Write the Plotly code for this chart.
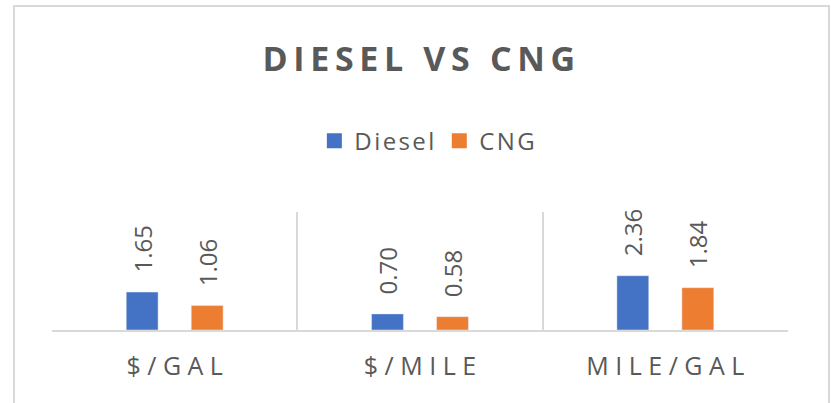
import plotly.graph_objects as go

categories = ["$/GAL", "$/MILE", "MILE/GAL"]
diesel = [1.65, 0.70, 2.36]
cng = [1.06, 0.58, 1.84]

GRAY = "#595959"
LINE = "#d9d9d9"
FONT = "Open Sans"
COLORS = {"Diesel": "#4472C4", "CNG": "#ED7D31"}


def spaced(s, sep=" "):
    return sep.join(s)


def label(v):
    # leading spaces push the rotated label up off the bar
    return "\u00a0\u00a0\u2009" + f"{v:.2f}"


fig = go.Figure()
for name, vals in [("Diesel", diesel), ("CNG", cng)]:
    fig.add_trace(go.Bar(
        name=name, x=categories, y=vals, marker_color=COLORS[name],
        text=[label(v) for v in vals], textposition="outside", textangle=-90,
        constraintext="none", cliponaxis=False, showlegend=False,
        textfont=dict(family=FONT, size=24, color=GRAY),
        hoverinfo="skip",
    ))
    # legend entry with a bigger square than the bar legend swatch
    fig.add_trace(go.Scatter(
        name=spaced(name, "\u200a"), x=[None], y=[None], mode="markers",
        marker=dict(symbol="square", size=15, color=COLORS[name]),
    ))

fig.update_layout(
    width=831, height=403,
    margin=dict(l=52, r=43, t=212, b=73),
    paper_bgcolor="white", plot_bgcolor="white",
    barmode="group", bargap=0.47, bargroupgap=0.51,
    title=dict(text=spaced("DIESEL VS CNG", "\u2009"), x=0.504, xanchor="center",
               y=1 - 59 / 403, yanchor="middle",
               font=dict(family=FONT, size=34, color=GRAY, weight="bold")),
    legend=dict(orientation="h", x=0.51, xanchor="center", y=1.6, yanchor="middle",
                font=dict(family=FONT, size=24, color=GRAY), itemwidth=30),
    xaxis=dict(
        tickmode="array", tickvals=categories,
        ticktext=[spaced(c) for c in categories],
        tickfont=dict(family=FONT, size=25, color=GRAY),
        tickson="boundaries", showgrid=True, gridcolor=LINE, gridwidth=2,
        showline=True, linecolor=LINE, linewidth=2, ticks="",
        ticklabelstandoff=13, fixedrange=True,
    ),
    yaxis=dict(range=[0, 5.13], visible=False, showgrid=False, zeroline=False,
               fixedrange=True),
    shapes=[dict(type="rect", xref="paper", yref="paper",
                 x0=(14 - 52) / 736, x1=(829 - 52) / 736,
                 y0=(330 - 420) / 118, y1=(330 - 6) / 118,
                 line=dict(color=LINE, width=2))],
)

fig.write_html("out.html", config={"displayModeBar": False},
               post_script="document.body.style.margin = '0';")
